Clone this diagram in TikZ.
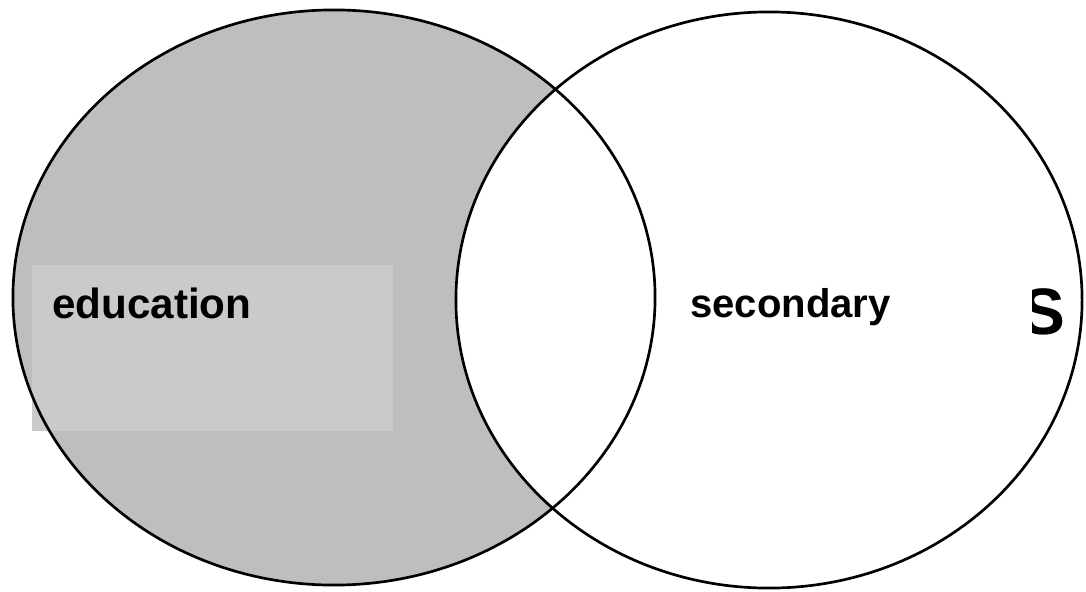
\documentclass[tikz,border=0pt]{standalone}
\usepackage{fontspec}
\setmainfont{Liberation Sans}
\usepackage{tikz}
\definecolor{vennfill}{HTML}{BFBEBF}
\definecolor{vennbox}{HTML}{CACACA}
\begin{document}
\begin{tikzpicture}[
  x=0.025cm, y=-0.025cm,
  every node/.style={font=\fontsize{30}{36}\selectfont\bfseries, inner sep=0pt},
  setline/.style={draw=black, line width=1.9pt},
  setword/.style={anchor=base west},
  labelbox/.style={fill=vennbox, minimum width=9.025cm, minimum height=4.15cm},
  bigletter/.style={font=\fontsize{46.7}{50}\selectfont\bfseries, anchor=base}
]
\useasboundingbox (0,0) rectangle (1086,592);
\coordinate (educ) at (334,297.5);
\coordinate (sec) at (769,300);

% shaded set and the blank one on top of it
\fill[vennfill] (educ) ellipse [x radius=8.025cm, y radius=7.1875cm];
\fill[white] (sec) ellipse [x radius=7.825cm, y radius=7.2cm];
\node[labelbox] (educbox) at (212.5,348) {};

% outlines
\draw[setline] (educ) ellipse [x radius=8.025cm, y radius=7.1875cm];
\draw[setline] (sec) ellipse [x radius=7.825cm, y radius=7.2cm];

\node[setword] (educlabel) at (52,318) {education};
\node[setword] (seclabel) at (690,317) {\fontsize{28.5}{34}\selectfont secondary};

\begin{scope}
  \clip (1032,250) rectangle (1086,350);
  \node[bigletter] (cutletter) at (1043,334) {S};
\end{scope}
\end{tikzpicture}
\end{document}
